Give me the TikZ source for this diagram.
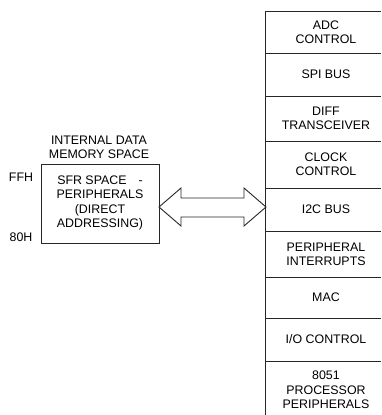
\documentclass[tikz,border=0pt]{standalone}
\usepackage{fontspec}
\setmainfont{Liberation Sans}
\begin{document}
\begin{tikzpicture}[x=1pt,y=-1pt,
  line/.style={draw=black!85,line width=0.9pt},
  lbl/.style={font=\fontsize{12.4}{14.4}\selectfont,align=center,inner sep=0pt},
  cell/.style={lbl}]
\useasboundingbox (0,0) rectangle (381,415);
% left block
\node[lbl] (title) at (99,147) {INTERNAL DATA\\MEMORY SPACE};
\node[line,minimum width=118pt,minimum height=79pt,inner sep=0pt] (sfr) at (100,203.5) {};
\node[lbl] (sfrtxt) at (100,203) {SFR SPACE\hspace{12pt}-\\PERIPHERALS\\(DIRECT\\ADDRESSING)};
\node[lbl] (ffh) at (21,177) {FFH};
\node[lbl] (h80) at (21,237) {80H};
% column
\draw[line] (265,11) -- (265,415);
\foreach \y in {11,53,96,141,188,231,277,318,361}
  \draw[line] (265,\y) -- (381,\y);
\node[cell] (adc) at (326,32) {ADC\\CONTROL};
\node[cell] (spi) at (326,74.5) {SPI BUS};
\node[cell] (diff) at (326,118) {DIFF\\TRANSCEIVER};
\node[cell] (clk) at (326,164.5) {CLOCK\\CONTROL};
\node[cell] (i2c) at (326,209.5) {I2C BUS};
\node[cell] (pint) at (326,254) {PERIPHERAL\\INTERRUPTS};
\node[cell] (mac) at (326,297.5) {MAC};
\node[cell] (io) at (326,339.5) {I/O CONTROL};
\node[cell] (p8051) at (326,390) {8051\\PROCESSOR\\PERIPHERALS};
% double arrow
\draw[line,fill=white] (159,207) -- (181,188) -- (181,198) -- (244,198) -- (244,188)
  -- (266,207) -- (244,226) -- (244,217) -- (181,217) -- (181,226) -- cycle;
\end{tikzpicture}
\end{document}
